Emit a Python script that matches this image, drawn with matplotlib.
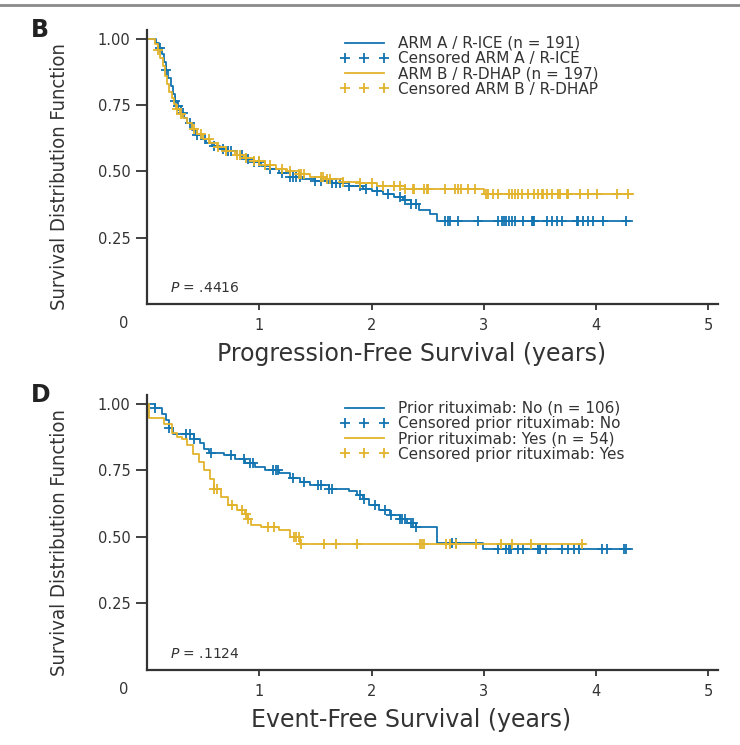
import numpy as np
import matplotlib
matplotlib.use("Agg")
import matplotlib.pyplot as plt
from matplotlib.lines import Line2D
from matplotlib import font_manager

blue = "#1274b0"
gold = "#e2b42c"
dark = "#333333"

# ---- panel B: progression-free survival by arm ----
b_armA_t = [0, 0.08, 0.11, 0.13, 0.15, 0.17, 0.19, 0.21, 0.23, 0.25, 0.27, 0.30, 0.33, 0.36, 0.40,
            0.44, 0.48, 0.53, 0.58, 0.65, 0.72, 0.80, 0.88, 0.95, 1.02, 1.10, 1.18, 1.27, 1.38, 1.50,
            1.65, 1.80, 1.92, 2.00, 2.10, 2.20, 2.28, 2.35, 2.42, 2.52, 2.58, 4.32]
b_armA_s = [1.0, 0.985, 0.965, 0.94, 0.91, 0.88, 0.85, 0.82, 0.79, 0.765, 0.745, 0.72, 0.70, 0.68, 0.655,
            0.635, 0.62, 0.605, 0.595, 0.585, 0.575, 0.56, 0.545, 0.535, 0.52, 0.51, 0.495, 0.48, 0.47, 0.465,
            0.455, 0.445, 0.435, 0.425, 0.415, 0.405, 0.39, 0.375, 0.355, 0.34, 0.312, 0.312]
b_armA_cens = [0.12, 0.17, 0.25, 0.28, 0.32, 0.38, 0.45, 0.52, 0.60, 0.68, 0.72, 0.75, 0.85, 0.90,
               0.95, 1.00, 1.10, 1.20, 1.27, 1.30, 1.33, 1.36, 1.50, 1.55, 1.65, 1.68, 1.72, 1.80, 1.90,
               1.95, 2.05, 2.15, 2.25, 2.30, 2.35, 2.40,
               2.65, 2.68, 2.70, 2.77, 2.95, 3.13, 3.16, 3.18, 3.20, 3.22, 3.25, 3.28, 3.35, 3.43, 3.44,
               3.45, 3.56, 3.61, 3.65, 3.70, 3.83, 3.84, 3.88, 3.93, 3.97, 4.06, 4.27]

b_armB_t = [0, 0.07, 0.10, 0.12, 0.14, 0.16, 0.18, 0.20, 0.22, 0.24, 0.26, 0.29, 0.32, 0.36, 0.40,
            0.45, 0.50, 0.56, 0.62, 0.70, 0.78, 0.86, 0.95, 1.05, 1.15, 1.25, 1.35, 1.45, 1.60, 1.75,
            1.90, 2.05, 2.30, 3.00, 4.33]
b_armB_s = [1.0, 0.98, 0.955, 0.925, 0.895, 0.86, 0.83, 0.80, 0.775, 0.755, 0.735, 0.715, 0.70, 0.68, 0.66,
            0.64, 0.62, 0.605, 0.59, 0.575, 0.56, 0.55, 0.54, 0.525, 0.51, 0.50, 0.49, 0.48, 0.47, 0.46,
            0.455, 0.445, 0.435, 0.413, 0.413]
b_armB_cens = [0.10, 0.27, 0.30, 0.42, 0.48, 0.55, 0.63, 0.70, 0.80, 0.83, 0.88,
               0.95, 1.00, 1.05, 1.10, 1.20, 1.27, 1.35, 1.37, 1.40, 1.55, 1.57, 1.60, 1.63, 1.75, 1.90,
               2.00, 2.10, 2.20, 2.25, 2.30,
               2.37, 2.38, 2.47, 2.49, 2.50, 2.65, 2.74, 2.77, 2.80, 2.86, 2.92, 3.02, 3.04, 3.08, 3.13,
               3.22, 3.25, 3.28, 3.30, 3.34, 3.39, 3.45, 3.48, 3.52, 3.53, 3.56, 3.61, 3.66, 3.68, 3.74,
               3.75, 3.86, 3.93, 4.01, 4.19, 4.28]

# ---- panel D: event-free survival by prior rituximab ----
d_no_t = [0, 0.07, 0.13, 0.17, 0.20, 0.23, 0.42, 0.47, 0.51, 0.55, 0.69, 0.78, 0.87, 0.96, 1.05,
          1.18, 1.27, 1.36, 1.45, 1.62, 1.80, 1.87, 1.92, 1.98, 2.07, 2.16, 2.25, 2.32, 2.40, 2.58,
          2.99, 4.32]
d_no_s = [1.0, 0.985, 0.96, 0.94, 0.91, 0.885, 0.865, 0.85, 0.83, 0.815, 0.805, 0.79, 0.775, 0.76, 0.75,
          0.74, 0.72, 0.705, 0.695, 0.68, 0.67, 0.655, 0.64, 0.62, 0.60, 0.58, 0.565, 0.55, 0.535, 0.478,
          0.455, 0.455]
d_no_cens = [0.07, 0.20, 0.35, 0.38, 0.42, 0.57, 0.75, 0.86, 0.92, 0.94, 1.12, 1.15, 1.17, 1.30, 1.40,
             1.52, 1.55, 1.62, 1.65, 1.90, 1.93, 2.03, 2.12, 2.17, 2.25, 2.27, 2.30, 2.35, 2.37, 2.40,
             2.72, 2.75, 3.13, 3.20, 3.22, 3.24, 3.30, 3.35, 3.48, 3.50, 3.55, 3.70, 3.75, 3.80, 3.85,
             4.05, 4.10, 4.25, 4.27]

d_yes_t = [0, 0.02, 0.15, 0.22, 0.27, 0.31, 0.36, 0.41, 0.46, 0.51, 0.56, 0.60, 0.66, 0.72, 0.80,
           0.87, 0.90, 0.93, 1.02, 1.18, 1.27, 1.36, 3.90]
d_yes_s = [1.0, 0.945, 0.925, 0.89, 0.875, 0.865, 0.845, 0.81, 0.78, 0.75, 0.715, 0.68, 0.65, 0.62, 0.60,
           0.585, 0.565, 0.545, 0.535, 0.525, 0.50, 0.474, 0.474]
d_yes_cens = [0.60, 0.62, 0.76, 0.85, 0.88, 0.90, 1.08, 1.13, 1.31, 1.33, 1.35, 1.37, 1.58, 1.68, 1.87,
              2.43, 2.45, 2.47, 2.66, 2.70, 2.75, 2.93, 3.15, 3.25, 3.42, 3.87]

panels = [
    dict(letter="B", xlabel="Progression-Free Survival (years)", pval=".4416",
         curves=[(b_armA_t, b_armA_s, b_armA_cens, blue, "ARM A / R-ICE (n = 191)", "Censored ARM A / R-ICE"),
                 (b_armB_t, b_armB_s, b_armB_cens, gold, "ARM B / R-DHAP (n = 197)", "Censored ARM B / R-DHAP")]),
    dict(letter="D", xlabel="Event-Free Survival (years)", pval=".1124",
         curves=[(d_no_t, d_no_s, d_no_cens, blue, "Prior rituximab: No (n = 106)", "Censored prior rituximab: No"),
                 (d_yes_t, d_yes_s, d_yes_cens, gold, "Prior rituximab: Yes (n = 54)", "Censored prior rituximab: Yes")]),
]

# narrow regular face for the y label if one is around
cond = [f for f in font_manager.fontManager.ttflist
        if ("Condensed" in f.fname or "Narrow" in f.fname)
        and f.weight in (400, "normal", "regular", "book") and f.style == "normal"]
if cond:
    ylab_font = dict(fontproperties=font_manager.FontProperties(fname=cond[0].fname, size=14.5))
else:
    ylab_font = dict(fontsize=13)

fig = plt.figure(figsize=(7.4, 7.45), dpi=100)
fig.add_artist(Line2D([0, 1], [0.993, 0.993], color="#8a8a8a", lw=2, transform=fig.transFigure))

axes_rects = [[0.1986, 0.5919, 0.7716, 0.3678], [0.1986, 0.1007, 0.7716, 0.3691]]

for rect, p in zip(axes_rects, panels):
    ax = fig.add_axes(rect)
    handles = []
    for t, s, cens, col, lab, clab in p["curves"]:
        t = np.array(t)
        s = np.array(s)
        ax.step(t, s, where="post", color=col, lw=1.3)
        idx = np.searchsorted(t, cens, side="right") - 1
        ax.plot(cens, s[idx], ls="none", marker="+", ms=7, mew=1.3, color=col)
        handles.append(Line2D([], [], color=col, lw=1.3, label=lab))
        handles.append(Line2D([], [], ls="none", marker="+", ms=7, mew=1.3, color=col, label=clab))

    ax.set_xlim(0, 5.085)
    ax.set_ylim(0, 1.032)
    ax.set_xticks([1, 2, 3, 4, 5])
    ax.set_yticks([0.25, 0.5, 0.75, 1.0])
    ax.set_yticklabels(["0.25", "0.50", "0.75", "1.00"])
    for side in ["top", "right"]:
        ax.spines[side].set_visible(False)
    for side in ["left", "bottom"]:
        ax.spines[side].set_linewidth(1.6)
        ax.spines[side].set_color(dark)
    ax.tick_params(axis="y", length=8, width=1.3, color=dark, labelsize=10.5, labelcolor=dark, pad=4)
    ax.tick_params(axis="x", length=4, width=1.3, color=dark, labelsize=10.5, labelcolor=dark, pad=6)
    ax.text(-0.04, -0.045, "0", transform=ax.transAxes, fontsize=10.5, color=dark, ha="center", va="top")

    ax.set_xlabel(p["xlabel"], fontsize=17, color=dark, labelpad=6)
    ax.xaxis.set_label_coords(0.463, -0.14)
    ax.set_ylabel("Survival Distribution Function", color=dark, **ylab_font)
    ax.yaxis.set_label_coords(-0.137, 0.465)
    ax.text(0.04, 0.045, "$P$ = " + p["pval"], transform=ax.transAxes, fontsize=10, color=dark)
    ax.text(-0.187, 1.0, p["letter"], transform=ax.transAxes, fontsize=17, fontweight="bold",
            color="#222222", ha="center", va="center")

    ax.legend(handles=handles, loc="upper left", bbox_to_anchor=(0.322, 1.012), frameon=False,
              numpoints=3, handlelength=3.2, handletextpad=0.6, labelspacing=0.02,
              fontsize=11, labelcolor=dark, borderaxespad=0.2)

fig.savefig("out.png", dpi=100)
